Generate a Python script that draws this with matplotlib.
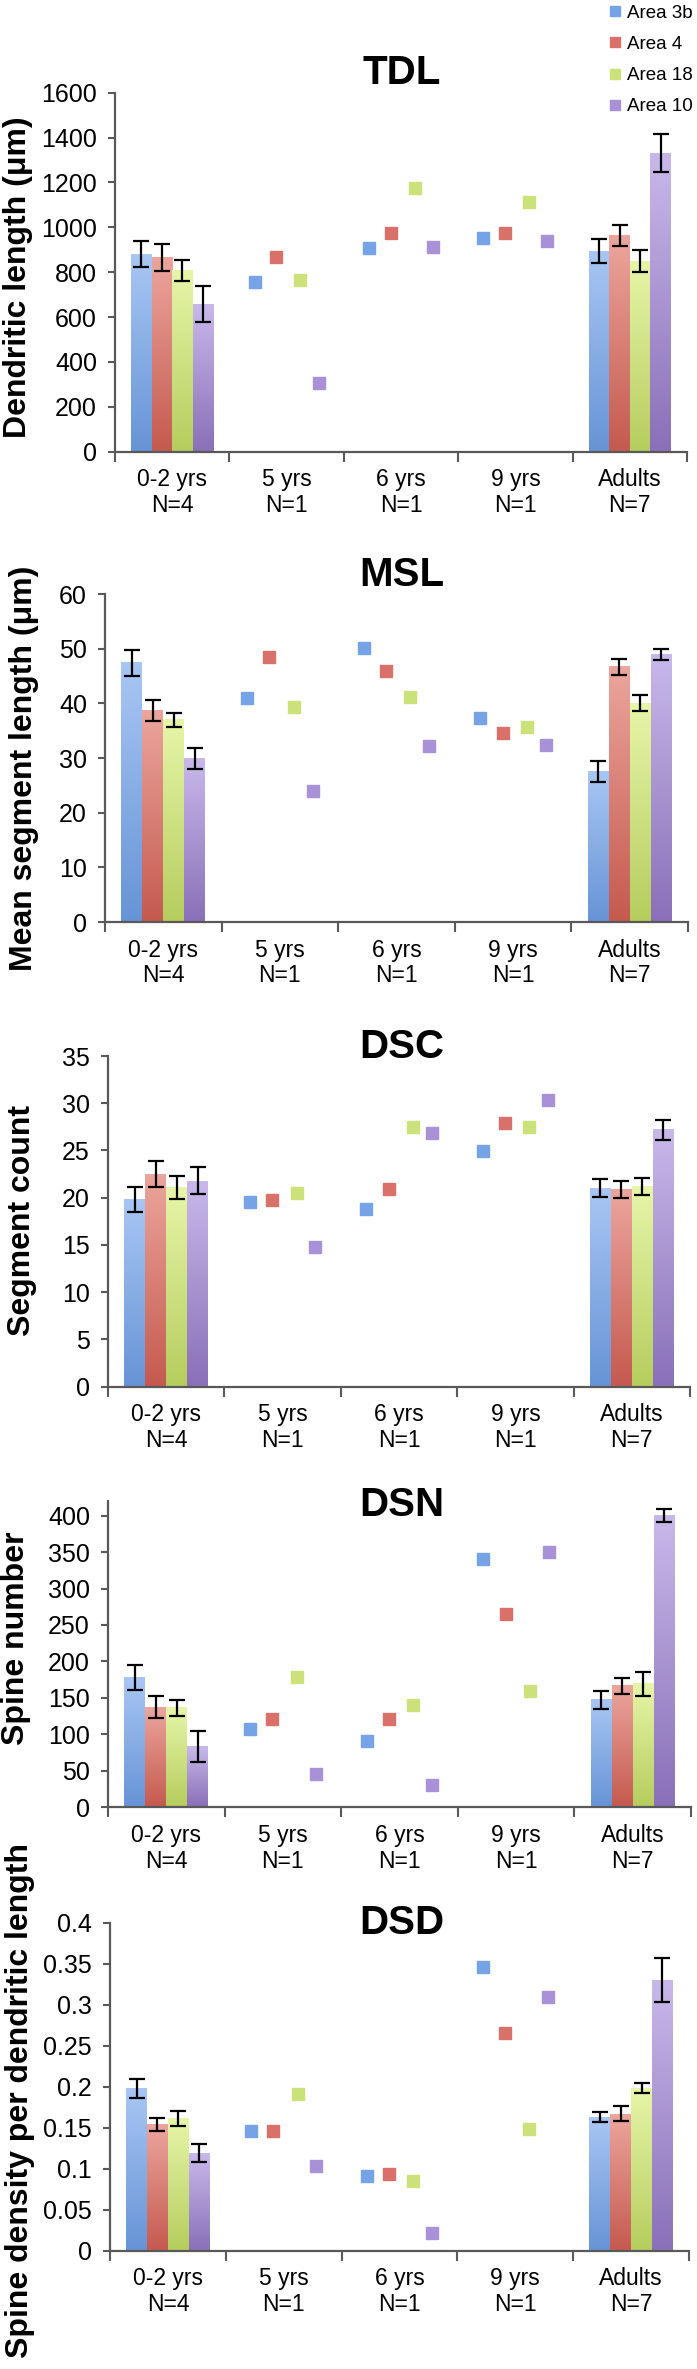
import matplotlib
matplotlib.use('Agg')
import matplotlib.pyplot as plt
import numpy as np
from matplotlib.lines import Line2D
from matplotlib.ticker import FormatStrFormatter, MultipleLocator

plt.rcParams['font.family'] = ['Liberation Sans', 'DejaVu Sans']

grupos = ['0-2 yrs\nN=4', '5 yrs\nN=1', '6 yrs\nN=1', '9 yrs\nN=1', 'Adults\nN=7']
areas = ['Area 3b', 'Area 4', 'Area 18', 'Area 10']

# TDL
tdl_jov = [880, 866, 807, 657]
tdl_jov_err = [58, 61, 48, 81]
tdl_adu = [895, 964, 850, 1330]
tdl_adu_err = [52, 48, 50, 85]
tdl_5 = [758, 866, 765, 305]
tdl_6 = [906, 976, 1174, 911]
tdl_9 = [951, 976, 1111, 940]

# MSL
msl_jov = [47.4, 38.7, 37.0, 29.9]
msl_jov_err = [2.35, 2.0, 1.3, 2.0]
msl_adu = [27.5, 46.7, 40.0, 49.0]
msl_adu_err = [1.9, 1.5, 1.45, 1.0]
msl_5 = [40.9, 48.5, 39.4, 24.0]
msl_6 = [50.1, 45.9, 41.1, 32.2]
msl_9 = [37.4, 34.5, 35.6, 32.3]

# DSC
dsc_jov = [19.8, 22.5, 21.1, 21.8]
dsc_jov_err = [1.3, 1.35, 1.2, 1.4]
dsc_adu = [21.0, 20.9, 21.2, 27.2]
dsc_adu_err = [0.95, 0.9, 0.9, 1.05]
dsc_5 = [19.6, 19.8, 20.5, 14.8]
dsc_6 = [18.8, 20.9, 27.5, 26.9]
dsc_9 = [24.9, 27.9, 27.5, 30.3]

# DSN
dsn_jov = [178, 137, 136, 83]
dsn_jov_err = [17, 15, 11, 21]
dsn_adu = [147, 166, 169, 400]
dsn_adu_err = [12.5, 11, 16, 9]
dsn_5 = [108, 121, 179, 46]
dsn_6 = [91, 121, 140, 30]
dsn_9 = [340, 265, 160, 350]

# DSD
dsd_jov = [0.198, 0.154, 0.161, 0.119]
dsd_jov_err = [0.012, 0.008, 0.0095, 0.011]
dsd_adu = [0.163, 0.167, 0.198, 0.330]
dsd_adu_err = [0.006, 0.009, 0.006, 0.027]
dsd_5 = [0.146, 0.146, 0.191, 0.103]
dsd_6 = [0.091, 0.094, 0.085, 0.022]
dsd_9 = [0.346, 0.266, 0.148, 0.310]

# colores: arriba claro, abajo oscuro (degradado de Excel)
col_arriba = ['#a8c6f3', '#eba59d', '#e6f5a8', '#c8b8ea']
col_abajo = ['#6794d6', '#c55a4f', '#b6cd5e', '#8a70b8']
col_punto = ['#76a3e6', '#d9716a', '#cbe27a', '#a891d6']

W, H = 697, 2369
fig = plt.figure(figsize=(W / 100, H / 100), dpi=100)

# (titulo, ylabel, ymax, paso, datos..., caja en px, pos titulo, pos ylabel)
paneles = [
    ('TDL', 'Dendritic length (μm)', 1600, 200, tdl_jov, tdl_jov_err, tdl_adu, tdl_adu_err,
     [tdl_5, tdl_6, tdl_9], (115, 92.7, 687, 451.7), 73, (18, 277)),
    ('MSL', 'Mean segment length (μm)', 60, 10, msl_jov, msl_jov_err, msl_adu, msl_adu_err,
     [msl_5, msl_6, msl_9], (105, 594, 688, 922), 575, (24, 768)),
    ('DSC', 'Segment count', 35, 5, dsc_jov, dsc_jov_err, dsc_adu, dsc_adu_err,
     [dsc_5, dsc_6, dsc_9], (108, 1056, 690, 1386.7), 1047, (22, 1220)),
    ('DSN', 'Spine number', 420, 50, dsn_jov, dsn_jov_err, dsn_adu, dsn_adu_err,
     [dsn_5, dsn_6, dsn_9], (108, 1501, 691, 1807.3), 1505, (16, 1638)),
    ('DSD', 'Spine density per dendritic length', 0.4, 0.05, dsd_jov, dsd_jov_err, dsd_adu, dsd_adu_err,
     [dsd_5, dsd_6, dsd_9], (110, 1922.7, 689, 2250.7), 1923, (20, 2100)),
]

ancho = 0.18
off_barra = [-0.27, -0.09, 0.09, 0.27]
off_punto = [-0.28, -0.09, 0.12, 0.28]
gris = '#595959'


def barra_degradado(ax, x, h, c1, c2):
    g = np.linspace(0, 1, 64)[:, None, None]
    a = np.array(matplotlib.colors.to_rgb(c1))[None, None, :]
    b = np.array(matplotlib.colors.to_rgb(c2))[None, None, :]
    img = a * (1 - g) + b * g
    ax.imshow(img, extent=(x - ancho / 2, x + ancho / 2, 0, h), aspect='auto',
              origin='upper', zorder=2, interpolation='bilinear')


for (tit, ylab, ymax, paso, jov, jov_e, adu, adu_e, puntos, caja, ty, yl) in paneles:
    l, t, r, b = caja
    ax = fig.add_axes([l / W, 1 - b / H, (r - l) / W, (b - t) / H])
    for k in range(4):
        for gx, vals, errs in [(0, jov, jov_e), (4, adu, adu_e)]:
            x = gx + off_barra[k]
            barra_degradado(ax, x, vals[k], col_arriba[k], col_abajo[k])
            ax.errorbar(x, vals[k], yerr=errs[k], color='black', lw=1.6,
                        capsize=6, capthick=1.6, zorder=4)
        for j, serie in enumerate(puntos):
            ax.plot(j + 1 + off_punto[k], serie[k], marker='s', ms=9, ls='none',
                    color=col_punto[k], zorder=3)

    ax.set_xlim(-0.5, 4.5)
    ax.set_ylim(0, ymax)
    ax.yaxis.set_major_locator(MultipleLocator(paso))
    if tit == 'DSN':
        ax.set_yticks(np.arange(0, 401, 50))
    if tit == 'DSD':
        ax.yaxis.set_major_formatter(FormatStrFormatter('%g'))
    ax.set_xticks(np.arange(-0.5, 4.6, 1))
    ax.set_xticklabels([])
    ax.set_xticks(np.arange(5), minor=True)
    ax.set_xticklabels(grupos, minor=True, fontsize=16.5, linespacing=1.15)
    ax.tick_params(axis='x', which='major', direction='out', length=7, width=1.5, color=gris)
    ax.tick_params(axis='x', which='minor', length=0, pad=12)
    ax.tick_params(axis='y', direction='out', length=5, width=1.5, color=gris,
                   labelsize=18, pad=8)
    for s in ['top', 'right']:
        ax.spines[s].set_visible(False)
    for s in ['left', 'bottom']:
        ax.spines[s].set_color(gris)
        ax.spines[s].set_linewidth(1.6)

    fig.text(402 / W, 1 - ty / H, tit, ha='center', va='center', fontsize=29, fontweight='bold')
    fig.text(yl[0] / W, 1 - yl[1] / H, ylab, ha='center', va='center', rotation=90,
             fontsize=23, fontweight='bold')

manijas = [Line2D([], [], marker='s', ls='none', ms=7, color=c) for c in col_punto]
fig.legend(manijas, areas, loc='upper right', bbox_to_anchor=(1.0, 1.0), frameon=False,
           fontsize=13.5, handlelength=0.6, handletextpad=0.3, labelspacing=0.75,
           borderaxespad=0.1, borderpad=0.15)

fig.savefig('out.png', dpi=100)
